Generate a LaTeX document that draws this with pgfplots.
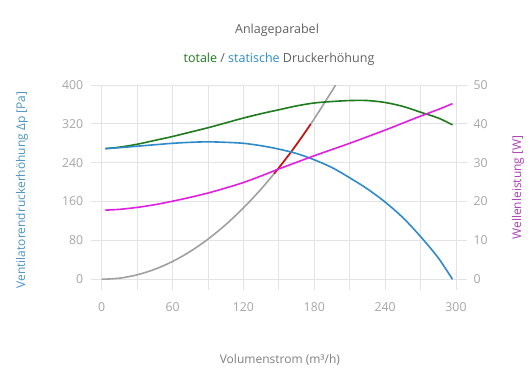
\documentclass[border=0pt]{standalone}
\usepackage{pgfplots}
\pgfplotsset{compat=1.18}
\usepackage{fontspec}
\setmainfont{Open Sans}
\definecolor{cblue}{HTML}{2E8AC8}
\definecolor{cgreen}{HTML}{1E7B1E}
\definecolor{cmag}{HTML}{E020E0}
\definecolor{cgray}{HTML}{A0A0A0}
\definecolor{cred}{HTML}{D01010}
\definecolor{gridc}{HTML}{E3E3E3}
\definecolor{tickc}{HTML}{A6A6A6}
\definecolor{titlec}{HTML}{606060}
\definecolor{lblblue}{HTML}{4A94C4}
\definecolor{lblmag}{HTML}{B040B8}
\newcommand{\tickfont}{\fontsize{12.3bp}{14bp}\selectfont}
\newcommand{\labfont}{\fontsize{12bp}{14bp}\selectfont}
\newcommand{\titfont}{\fontsize{12.5bp}{14bp}\selectfont}
\pgfplotsset{
  base/.style={
    at={(101.7bp,110.7bp)}, anchor=south west,
    scale only axis, width=354.3bp, height=194.3bp,
    xmin=0, xmax=300,
    axis line style={draw=none},
    tick align=outside,
    major tick length=11bp, minor tick length=11bp,
    tick style={color=gridc, line width=0.8bp},
    ticklabel style={font=\tickfont, color=tickc},
    /pgf/number format/assume math mode=true,
    label style={font=\labfont},
  }
}
\begin{document}
\begin{tikzpicture}[x=1bp,y=1bp]
\path[use as bounding box] (0,0) rectangle (530,390);
\begin{axis}[base,
  ymin=0, ymax=400,
  xtick={0,60,...,300}, minor xtick={30,90,...,270},
  ytick={0,80,...,400},
  xtick pos=bottom, ytick pos=left,
  xticklabel style={yshift=-9bp},
  yticklabel style={xshift=-4bp},
  grid=both,
  major grid style={color=gridc, line width=0.8bp},
  minor grid style={color=gridc, line width=0.8bp},
  xlabel={Volumenstrom (m³/h)},
  xlabel style={at={(axis description cs:0.503,-0.415)}, anchor=center, color=titlec!80},
  ylabel={Ventilatorendruckerhöhung Δp [Pa]},
  ylabel style={at={(axis description cs:-0.225,0.46)}, anchor=center, color=lblblue},
]
% Anlageparabel
\addplot[color=cgray, line width=1.6bp, smooth] coordinates {
(0,0) (15,2.3) (30,9.2) (45,20.7) (60,36.7) (75,57.4) (90,82.6) (105,112.5)
(120,146.9) (135,185.9) (150,229.5) (165,277.7) (180,330.5) (195,387.9) (198,400)
};
% operating segment
\addplot[color=cred, line width=1.6bp, smooth] coordinates {
(146,217.4) (150,229.5) (155,245.1) (160,261.1) (165,277.7) (170,294.8) (177,319.6)
};
% totale Druckerhoehung
\addplot[color=cgreen, line width=1.6bp, smooth] coordinates {
(3,269) (15,272) (30,278) (45,286) (60,294) (75,303) (90,312) (105,322) (120,332)
(135,341) (150,349) (165,357) (180,363) (195,366) (210,368) (225,368) (240,364)
(255,356) (270,344) (285,332) (297,318)
};
% statische Druckerhoehung
\addplot[color=cblue, line width=1.6bp, smooth] coordinates {
(3,269) (15,271) (30,274) (45,277) (60,280) (75,282) (90,283) (105,282) (120,280)
(135,275) (150,268) (165,259) (180,246) (195,230) (210,209) (225,186) (240,159)
(255,127) (270,88) (285,44) (297,0)
};
\end{axis}
\begin{axis}[base,
  ymin=0, ymax=50,
  ytick={0,10,...,50},
  xtick=\empty,
  ytick pos=right,
  yticklabel style={xshift=3bp},
  ylabel={Wellenleistung [W]},
  ylabel style={at={(axis description cs:1.175,0.4725)}, anchor=center, color=lblmag},
]
\addplot[color=cmag, line width=1.6bp, smooth] coordinates {
(3,17.8) (15,18.0) (30,18.5) (45,19.2) (60,20.1) (75,21.1) (90,22.2) (105,23.5)
(120,24.9) (135,26.6) (150,28.4) (165,30.1) (180,31.8) (195,33.4) (210,35.0)
(225,36.7) (240,38.4) (255,40.2) (270,42.0) (285,43.7) (297,45.2)
};
\end{axis}
\node[font=\titfont, color=titlec] at (277,360) {Anlageparabel};
\node[font=\titfont, color=titlec] at (279,331) {{\color{cgreen}totale} / {\color{cblue}statische} Druckerhöhung};
\end{tikzpicture}
\end{document}
